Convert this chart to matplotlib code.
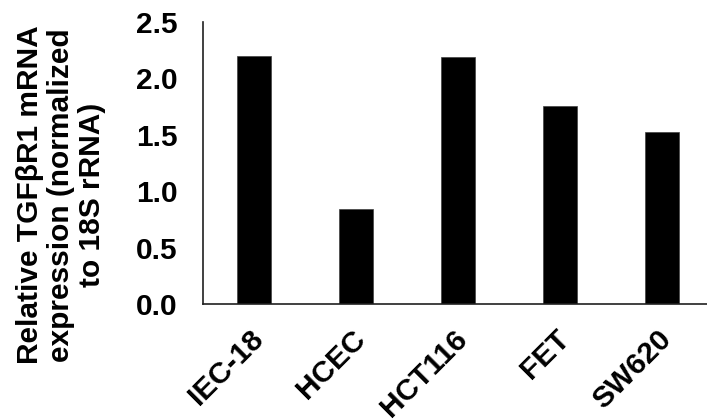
import matplotlib
matplotlib.use('Agg')
import matplotlib.pyplot as plt
import matplotlib.transforms as mtransforms
import numpy as np

# cell lines and relative expression
cell_lines = ['IEC-18', 'HCEC', 'HCT116', 'FET', 'SW620']
expression = [2.20, 0.84, 2.185, 1.75, 1.525]
y_ticks = [0.0, 0.5, 1.0, 1.5, 2.0, 2.5]

plt.rcParams['font.family'] = ['Liberation Sans', 'DejaVu Sans']
plt.rcParams['font.weight'] = 'bold'
FS = 21.5

fig = plt.figure(figsize=(7.07, 4.19), dpi=100)
ax = fig.add_axes([203/707, 1-304/419, 510/707, (304-21.7)/419])

x = np.arange(len(cell_lines))
ax.bar(x, expression, width=0.333, color='black', edgecolor='#404040', linewidth=0.5)

ax.set_xlim(-0.5, len(cell_lines)-0.5)
ax.set_ylim(0, 2.5)
ax.set_yticks(y_ticks)
ax.set_yticklabels(['%.1f' % v for v in y_ticks], fontsize=FS, fontweight='bold')
ax.set_xticks(x)
ax.set_xticklabels(cell_lines, fontsize=FS, fontweight='bold', rotation=45,
                   ha='right', va='center', rotation_mode='anchor')
ax.tick_params(axis='y', length=0, pad=18)
ax.tick_params(axis='x', length=0, pad=22)
# nudge the rotated labels a bit right, like the original
shift = mtransforms.ScaledTranslation(5/100, 0, fig.dpi_scale_trans)
for lbl in ax.get_xticklabels():
    lbl.set_transform(lbl.get_transform() + shift)

for side in ['top', 'right']:
    ax.spines[side].set_visible(False)
for side in ['left', 'bottom']:
    ax.spines[side].set_color('#202020')
    ax.spines[side].set_linewidth(1.2)

fig.text(61/707, 1-195/419, 'Relative TGF\u03b2R1 mRNA\nexpression (normalized\nto 18S rRNA)',
         rotation=90, ha='center', va='center', multialignment='center',
         fontsize=FS, fontweight='bold', linespacing=1.12)

fig.savefig('out.png', dpi=100)
